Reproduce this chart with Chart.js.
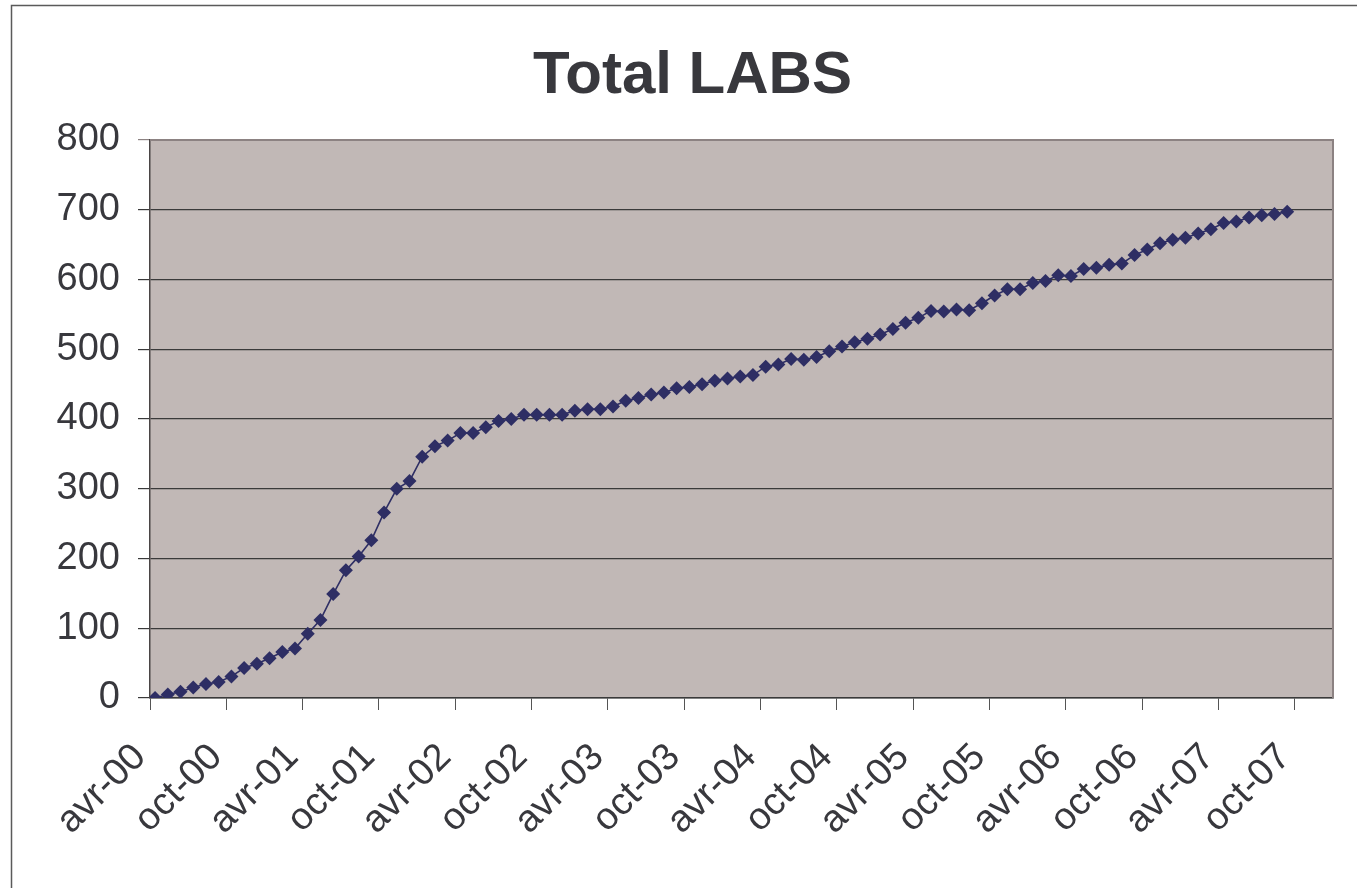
<!DOCTYPE html>
<html>
<head>
<meta charset="utf-8">
<script src="https://cdn.jsdelivr.net/npm/chart.js@4/dist/chart.umd.min.js"></script>
<style>
  html, body { margin: 0; padding: 0; background: #fff; }
  #wrap { width: 1357px; height: 888px; position: relative; }
</style>
</head>
<body>
<div id="wrap"><canvas id="labs"></canvas></div>
<script>
// monthly totals, avr-00 .. sep-07
const totalLabs = [
  0, 5, 9, 15, 20, 23, 31, 43, 49, 57, 66, 71,
  92, 112, 149, 183, 203, 226, 266, 300, 311, 346, 361, 369,
  380, 380, 388, 397, 400, 406, 406, 406, 406, 412, 414, 414,
  418, 426, 430, 435, 438, 444, 446, 450, 455, 458, 461, 463,
  475, 478, 486, 485, 489, 497, 504, 510, 515, 521, 529, 538,
  545, 555, 554, 557, 556, 566, 577, 586, 586, 595, 598, 606,
  605, 615, 617, 621, 623, 635, 643, 652, 657, 660, 666, 672,
  681, 683, 689, 692, 694, 697
];
const tickLabels = ['avr-00', 'oct-00', 'avr-01', 'oct-01', 'avr-02', 'oct-02', 'avr-03', 'oct-03',
  'avr-04', 'oct-04', 'avr-05', 'oct-05', 'avr-06', 'oct-06', 'avr-07', 'oct-07'];
const yTicks = [0, 100, 200, 300, 400, 500, 600, 700, 800];

const DAY_OFFSET = 0.4; // values are taken around the 12th of each month
const points = totalLabs.map((v, i) => ({ x: i + DAY_OFFSET, y: v }));

const fontFamily = '"Liberation Sans", Arial, sans-serif';
const textColor = '#38383d';
const navy = '#2e2e64';

const plotBg = {
  id: 'plotBg',
  beforeDraw(chart) {
    const { ctx, chartArea: a } = chart;
    ctx.save();
    ctx.strokeStyle = '#5a5a5a';
    ctx.lineWidth = 1.5;
    ctx.strokeRect(11.5, 5.5, 1500, 1000);
    ctx.fillStyle = '#c1b8b6';
    ctx.fillRect(a.left, a.top, a.right - a.left, a.bottom - a.top);
    ctx.restore();
  },
  afterDatasetsDraw(chart) {
    const { ctx, chartArea: a } = chart;
    ctx.save();
    ctx.strokeStyle = '#8c8282';
    ctx.lineWidth = 2;
    ctx.beginPath();
    ctx.moveTo(a.left, a.top);
    ctx.lineTo(a.right, a.top);
    ctx.lineTo(a.right, a.bottom);
    ctx.stroke();
    ctx.restore();
  }
};

new Chart(document.getElementById('labs'), {
  type: 'line',
  data: {
    datasets: [{
      label: 'Total LABS',
      data: points,
      borderColor: navy,
      borderWidth: 1.6,
      backgroundColor: navy,
      pointStyle: 'rectRot',
      pointRadius: 7,
      pointBorderWidth: 0,
      pointBackgroundColor: navy,
      tension: 0,
      fill: false
    }]
  },
  options: {
    responsive: true,
    maintainAspectRatio: false,
    animation: false,
    layout: { padding: { top: 5, right: 24, bottom: 0, left: 52 } },
    plugins: {
      legend: { display: false },
      tooltip: { enabled: false },
      title: {
        display: true,
        text: 'Total LABS',
        color: textColor,
        font: { family: fontFamily, size: 60, weight: 'bold' },
        padding: { top: 35, bottom: 28 }
      }
    },
    scales: {
      x: {
        type: 'linear',
        min: 0,
        max: 93,
        afterBuildTicks(scale) {
          scale.ticks = tickLabels.map((t, i) => ({ value: i * 6 }));
        },
        afterFit(scale) { scale.height = 190; },
        ticks: {
          autoSkip: false,
          minRotation: 45,
          maxRotation: 45,
          padding: 25,
          labelOffset: -10,
          color: textColor,
          font: { family: fontFamily, size: 38 },
          callback: (v) => tickLabels[Math.round(v / 6)]
        },
        grid: {
          drawOnChartArea: false,
          drawTicks: true,
          tickLength: 12,
          color: '#555'
        },
        border: { color: '#3a3a3a', width: 1.5 }
      },
      y: {
        min: 0,
        max: 800,
        afterBuildTicks(scale) {
          scale.ticks = yTicks.map(v => ({ value: v }));
        },
        afterFit(scale) { scale.width = 98; },
        ticks: {
          padding: 18,
          color: textColor,
          font: { family: fontFamily, size: 38 }
        },
        grid: {
          tickLength: 12,
          color: (c) => (c.tick && c.tick.value === 800 ? '#8c8282' : '#3a3a3a'),
          lineWidth: 1.2
        },
        border: { color: '#4a4545', width: 1.5 }
      }
    }
  },
  plugins: [plotBg]
});
</script>
</body>
</html>
